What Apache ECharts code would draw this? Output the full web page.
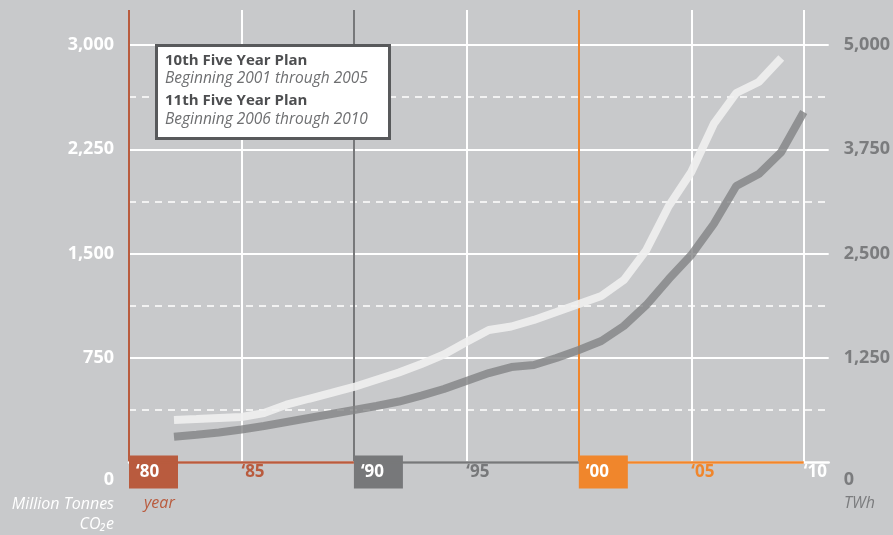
<!DOCTYPE html>
<html>
<head>
<meta charset="utf-8">
<script src="https://cdn.jsdelivr.net/npm/echarts@6/dist/echarts.min.js"></script>
<style>
  html, body { margin: 0; padding: 0; background: #c8c9cb; }
  #main { width: 893px; height: 535px; }
</style>
</head>
<body>
<div id="main"></div>
<script>
// data
var years = [1982, 1983, 1984, 1985, 1986, 1987, 1988, 1989, 1990, 1991, 1992, 1993, 1994, 1995,
    1996, 1997, 1998, 1999, 2000, 2001, 2002, 2003, 2004, 2005, 2006, 2007, 2008, 2009, 2010];
// million tonnes CO2e (left axis), 1982-2009
var co2 = [302, 309, 317, 324, 352, 412, 455, 497, 540, 592, 644, 705, 773, 863,
    950, 975, 1022, 1079, 1137, 1194, 1309, 1525, 1842, 2086, 2432, 2655, 2734, 2906];
// TWh (right axis), 1982-2010
var twh = [303, 327, 354, 390, 432, 480, 528, 576, 624, 671, 725, 797, 875, 971,
    1067, 1139, 1163, 1247, 1343, 1451, 1631, 1882, 2194, 2482, 2854, 3309, 3453, 3717, 4197];

var tickYears = [1980, 1985, 1990, 1995, 2000, 2005, 2010];
var tickLabels = ['\u201880', '\u201885', '\u201890', '\u201895', '\u201800', '\u201805', '\u201810'];
var tickStyles = ['box80', 'red', 'box90', 'gray', 'box00', 'orange', 'white'];

var plans = [
    ['10th Five Year Plan', 'Beginning 2001 through 2005'],
    ['11th Five Year Plan', 'Beginning 2006 through 2010']
];

var RED = '#b95b3e', GRAY = '#77787a', ORANGE = '#f0862c', TXT = '#7b7c7e';
var FONT = "'Open Sans', 'Noto Sans', sans-serif";

function pairs(xs, ys) {
    return ys.map(function (v, i) { return [xs[i], v]; });
}
function fmt(v) {
    return String(v).replace(/\B(?=(\d{3})+(?!\d))/g, ',');
}

var chart = echarts.init(document.getElementById('main'));

var labelBase = { fontFamily: FONT, fontWeight: 'bold', fontSize: 17, lineHeight: 18 };
function box(bg) {
    return Object.assign({ color: '#fff', backgroundColor: bg, width: 35, padding: [8, 7, 8, 7] }, labelBase);
}
function plain(c) {
    return Object.assign({ color: c, padding: [8, 0, 8, 0] }, labelBase);
}

var option = {
    backgroundColor: '#c8c9cb',
    animation: false,
    grid: { left: 129, right: 64, top: 10, bottom: 73 },
    xAxis: {
        type: 'value', min: 1980, max: 2011.11, interval: 5,
        // white base line; the coloured decades are laid over it with markLine
        axisLine: { show: true, lineStyle: { color: '#fff', width: 2.5 } },
        axisTick: { show: false },
        splitLine: {
            show: true, showMaxLine: false,
            lineStyle: { width: 2, color: [RED, '#fff', GRAY, '#fff', ORANGE, '#fff', '#fff'] }
        },
        axisLabel: {
            showMaxLabel: false, align: 'left', margin: 1,
            formatter: function (v) {
                var i = tickYears.indexOf(Math.round(v));
                if (i < 0 || Math.abs(v - tickYears[i]) > 0.01) return '';
                return '{' + tickStyles[i] + '|' + tickLabels[i] + '}';
            },
            rich: {
                box80: box(RED), box90: box(GRAY), box00: box(ORANGE),
                red: plain(RED), gray: plain(GRAY), orange: plain(ORANGE), white: plain('#fff')
            }
        }
    },
    yAxis: [{
        type: 'value', min: 0, max: 3252, interval: 750, position: 'left',
        axisLine: { show: false }, axisTick: { show: false },
        splitLine: { show: true, showMinLine: false, showMaxLine: false, lineStyle: { color: '#fff', width: 2 } },
        axisLabel: {
            showMaxLabel: false, margin: 15, color: '#fff',
            fontFamily: FONT, fontWeight: 'bold', fontSize: 18,
            formatter: function (v) { return v === 0 ? '{z|0}' : fmt(v); },
            rich: { z: { padding: [36, 0, 0, 0], color: '#fff', fontFamily: FONT, fontWeight: 'bold', fontSize: 18 } }
        }
    }, {
        type: 'value', min: 0, max: 5420, interval: 1250, position: 'right',
        axisLine: { show: false }, axisTick: { show: false }, splitLine: { show: false },
        axisLabel: {
            showMaxLabel: false, margin: 15, color: TXT, align: 'left',
            fontFamily: FONT, fontWeight: 'bold', fontSize: 18,
            formatter: function (v) { return v === 0 ? '{z|0}' : fmt(v); },
            rich: { z: { padding: [36, 0, 0, 0], color: TXT, fontFamily: FONT, fontWeight: 'bold', fontSize: 18 } }
        }
    }, {
        // dashed half-step lines
        type: 'value', min: 0, max: 3252, interval: 375, position: 'left',
        axisLine: { show: false }, axisTick: { show: false }, axisLabel: { show: false },
        splitLine: { show: true, showMinLine: false, showMaxLine: false, lineStyle: { color: '#fff', width: 1.5, type: [7, 6] } }
    }],
    graphic: [{
        type: 'rect', left: 155, top: 44, z: 100,
        shape: { width: 233, height: 93 },
        style: { fill: '#fff', stroke: '#58595b', lineWidth: 3 }
    }, {
        type: 'text', left: 165, top: 53, z: 101,
        style: { text: plans[0][0], fill: '#4d4e50', font: 'bold 15px ' + FONT }
    }, {
        type: 'text', left: 165, top: 71, z: 101,
        style: { text: plans[0][1], fill: '#6e6f71', font: 'italic 15.5px ' + FONT }
    }, {
        type: 'text', left: 165, top: 93, z: 101,
        style: { text: plans[1][0], fill: '#4d4e50', font: 'bold 15px ' + FONT }
    }, {
        type: 'text', left: 165, top: 112, z: 101,
        style: { text: plans[1][1], fill: '#6e6f71', font: 'italic 15.5px ' + FONT }
    }, {
        type: 'text', right: 779, top: 496,
        style: { text: 'Million Tonnes', fill: '#fff', font: 'italic 16px ' + FONT }
    }, {
        type: 'text', right: 779, top: 516,
        style: { text: 'CO\u2082e', fill: '#fff', font: 'italic 16px ' + FONT }
    }, {
        type: 'text', left: 144, top: 495,
        style: { text: 'year', fill: RED, font: 'italic 16px ' + FONT }
    }, {
        type: 'text', left: 844, top: 495,
        style: { text: 'TWh', fill: TXT, font: 'italic 16px ' + FONT }
    }],
    series: [{
        name: 'CO2', type: 'line', yAxisIndex: 0,
        data: pairs(years, co2),
        showSymbol: false, silent: true,
        lineStyle: { width: 8, color: '#f0f0f0', opacity: 0.9, cap: 'butt' }
    }, {
        name: 'TWh', type: 'line', yAxisIndex: 1,
        data: pairs(years, twh),
        showSymbol: false, silent: true,
        lineStyle: { width: 8, color: '#828385', opacity: 0.8, cap: 'butt' },
        // coloured base line under the year labels
        markLine: {
            silent: true, symbol: ['none', 'none'], label: { show: false },
            data: [
                [{ coord: [1980, 0], lineStyle: { color: RED, width: 2.5, type: 'solid' } }, { coord: [1990, 0] }],
                [{ coord: [1990, 0], lineStyle: { color: GRAY, width: 2.5, type: 'solid' } }, { coord: [2000, 0] }],
                [{ coord: [2000, 0], lineStyle: { color: ORANGE, width: 2.5, type: 'solid' } }, { coord: [2010, 0] }]
            ]
        }
    }]
};
chart.setOption(option);
</script>
</body>
</html>
